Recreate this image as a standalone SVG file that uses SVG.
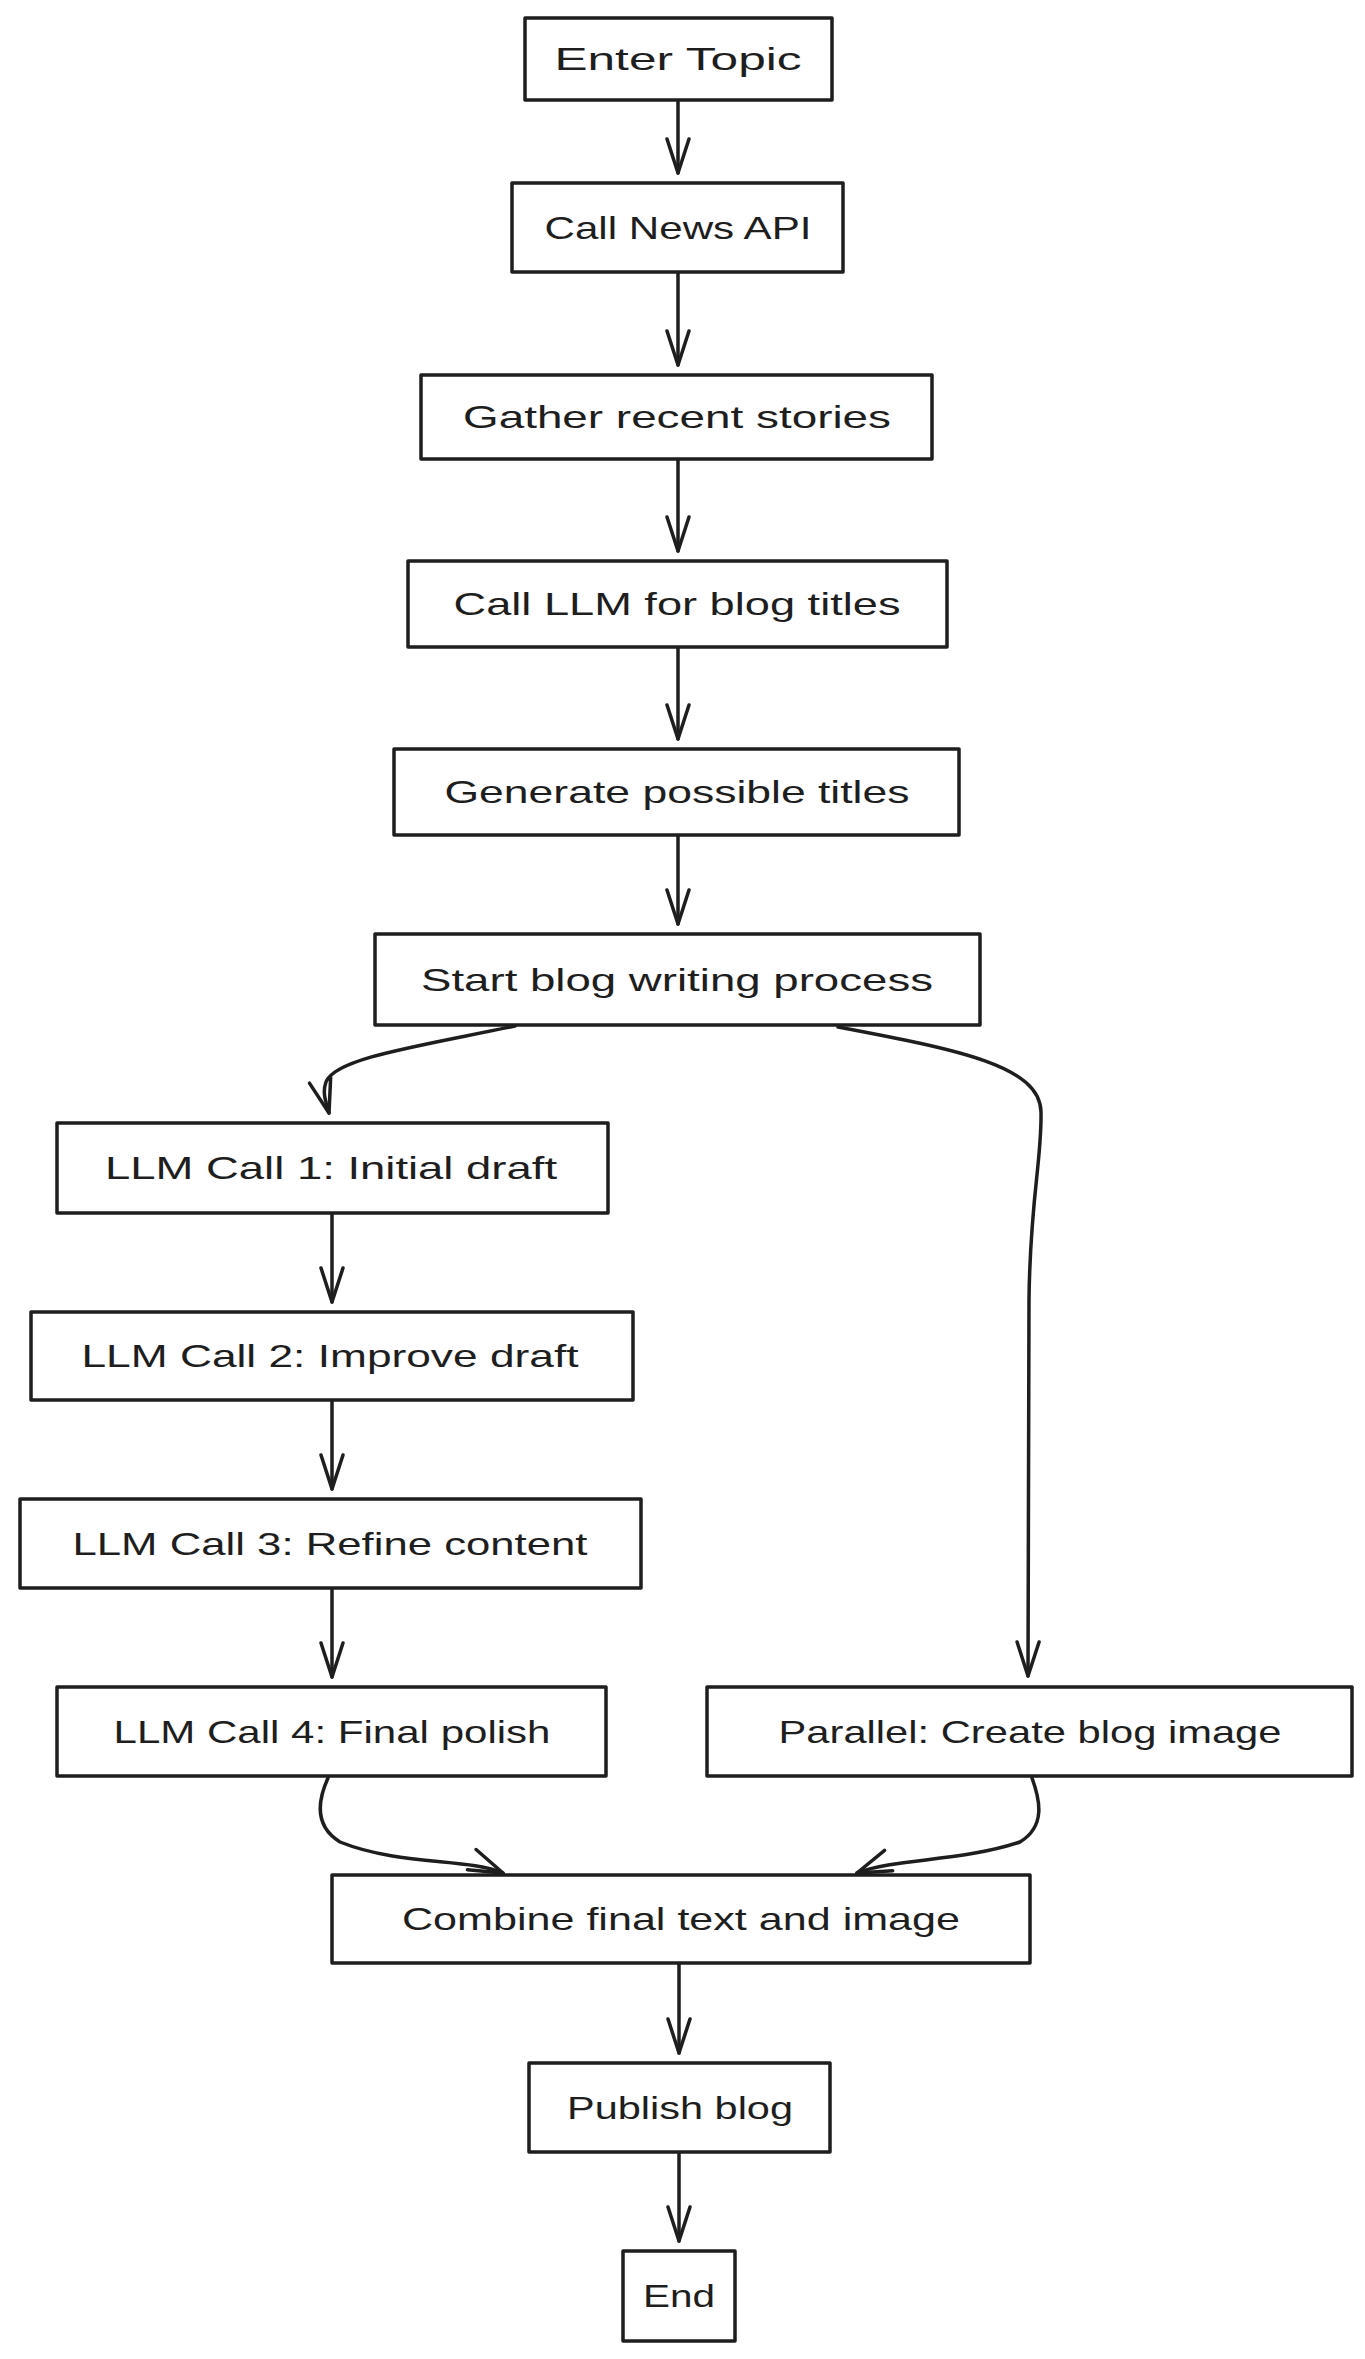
<svg xmlns="http://www.w3.org/2000/svg" width="1365" height="2359" viewBox="0 0 1365 2359">
  <style>
    .box { fill: #ffffff; stroke: #1e1e1e; stroke-width: 3.5; stroke-linejoin: round; }
    .lbl { font-family: "Liberation Sans", "DejaVu Sans", sans-serif; font-size: 32px; fill: #1e1e1e; text-anchor: middle; }
    .edge { fill: none; stroke: #1e1e1e; stroke-width: 3.5; stroke-linecap: round; stroke-linejoin: round; }
  </style>
  <defs>
    <marker id="arrow" markerUnits="userSpaceOnUse" markerWidth="40" markerHeight="40" viewBox="-36 -16 40 32" refX="0" refY="0" orient="auto">
      <path d="M -34,-11 L 0,0 L -34,11" fill="none" stroke="#1e1e1e" stroke-width="3.5" stroke-linecap="round" stroke-linejoin="round"/>
    </marker>
  </defs>
  <rect x="0" y="0" width="1365" height="2359" fill="#ffffff"/>

  <g id="connectors">
    <path class="edge" d="M 678,100 L 678,173" marker-end="url(#arrow)"/>
    <path class="edge" d="M 678,272 L 678,365" marker-end="url(#arrow)"/>
    <path class="edge" d="M 678,459 L 678,551" marker-end="url(#arrow)"/>
    <path class="edge" d="M 678,647 L 678,739" marker-end="url(#arrow)"/>
    <path class="edge" d="M 678,835 L 678,924" marker-end="url(#arrow)"/>
    <path class="edge" d="M 515,1026 C 420,1046 335,1058 326,1082 C 322,1093 326,1102 329,1113" marker-end="url(#arrow)"/>
    <path class="edge" d="M 838,1027 C 960,1050 1040,1066 1041,1112 C 1042,1160 1030,1200 1029,1300 L 1028,1676" marker-end="url(#arrow)"/>
    <path class="edge" d="M 332,1213 L 332,1302" marker-end="url(#arrow)"/>
    <path class="edge" d="M 332,1400 L 332,1489" marker-end="url(#arrow)"/>
    <path class="edge" d="M 332,1588 L 332,1677" marker-end="url(#arrow)"/>
    <path class="edge" d="M 328,1778 C 318,1800 314,1826 340,1842 C 400,1866 468,1858 503,1873" marker-end="url(#arrow)"/>
    <path class="edge" d="M 1032,1778 C 1040,1800 1046,1826 1020,1842 C 960,1862 895,1858 857,1873" marker-end="url(#arrow)"/>
    <path class="edge" d="M 679,1963 L 679,2053" marker-end="url(#arrow)"/>
    <path class="edge" d="M 679,2152 L 679,2241" marker-end="url(#arrow)"/>
  </g>

  <g id="n1"><rect class="box" x="525" y="18" width="307" height="82"/><text class="lbl" x="678" y="70" textLength="247" lengthAdjust="spacingAndGlyphs">Enter  Topic</text></g>
  <g id="n2"><rect class="box" x="512" y="183" width="331" height="89"/><text class="lbl" x="678" y="239" textLength="267" lengthAdjust="spacingAndGlyphs">Call News API</text></g>
  <g id="n3"><rect class="box" x="421" y="375" width="511" height="84"/><text class="lbl" x="677" y="428" textLength="428" lengthAdjust="spacingAndGlyphs">Gather recent stories</text></g>
  <g id="n4"><rect class="box" x="408" y="561" width="539" height="86"/><text class="lbl" x="677" y="615" textLength="447" lengthAdjust="spacingAndGlyphs">Call LLM for blog titles</text></g>
  <g id="n5"><rect class="box" x="394" y="749" width="565" height="86"/><text class="lbl" x="677" y="803" textLength="465" lengthAdjust="spacingAndGlyphs">Generate possible titles</text></g>
  <g id="n6"><rect class="box" x="375" y="934" width="605" height="91"/><text class="lbl" x="677" y="991" textLength="512" lengthAdjust="spacingAndGlyphs">Start blog writing process</text></g>
  <g id="n7"><rect class="box" x="57" y="1123" width="551" height="90"/><text class="lbl" x="331" y="1179" textLength="452" lengthAdjust="spacingAndGlyphs">LLM Call 1: Initial draft</text></g>
  <g id="n8"><rect class="box" x="31" y="1312" width="602" height="88"/><text class="lbl" x="330" y="1367" textLength="497" lengthAdjust="spacingAndGlyphs">LLM Call 2: Improve draft</text></g>
  <g id="n9"><rect class="box" x="20" y="1499" width="621" height="89"/><text class="lbl" x="330" y="1555" textLength="515" lengthAdjust="spacingAndGlyphs">LLM Call 3: Refine content</text></g>
  <g id="n10"><rect class="box" x="57" y="1687" width="549" height="89"/><text class="lbl" x="332" y="1743" textLength="437" lengthAdjust="spacingAndGlyphs">LLM Call 4: Final polish</text></g>
  <g id="n11"><rect class="box" x="707" y="1687" width="645" height="89"/><text class="lbl" x="1030" y="1743" textLength="503" lengthAdjust="spacingAndGlyphs">Parallel: Create blog image</text></g>
  <g id="n12"><rect class="box" x="332" y="1875" width="698" height="88"/><text class="lbl" x="681" y="1930" textLength="558" lengthAdjust="spacingAndGlyphs">Combine final text and image</text></g>
  <g id="n13"><rect class="box" x="529" y="2063" width="301" height="89"/><text class="lbl" x="680" y="2119" textLength="226" lengthAdjust="spacingAndGlyphs">Publish blog</text></g>
  <g id="n14"><rect class="box" x="623" y="2251" width="112" height="90"/><text class="lbl" x="679" y="2307" textLength="72" lengthAdjust="spacingAndGlyphs">End</text></g>
</svg>
